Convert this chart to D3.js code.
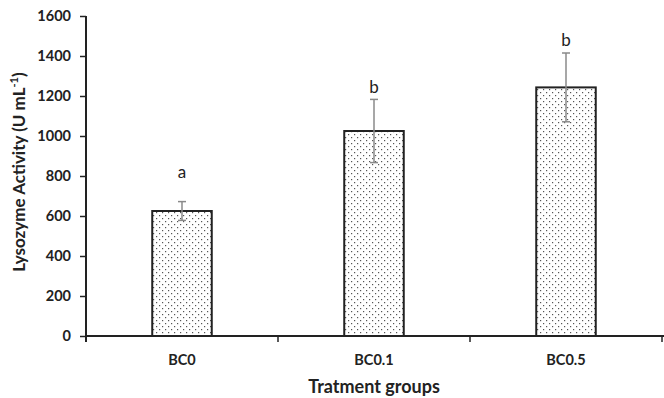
<!DOCTYPE html>
<html>
<head>
<meta charset="utf-8">
<script src="https://cdn.jsdelivr.net/npm/d3@7"></script>
<style>
  body { margin: 0; background: #fff; }
  text { font-family: Lato, "Open Sans", sans-serif; }
</style>
</head>
<body>
<script>
// Data
var groups = ["BC0", "BC0.1", "BC0.5"];
var means = [625, 1025, 1243];
var errors = [47, 158, 172];
var letters = ["a", "b", "b"];
var letterLevels = [790, 1213, 1450]; // baseline of the letter, in data units
var yTicks = [0, 200, 400, 600, 800, 1000, 1200, 1400, 1600];

var W = 664, H = 398;
var margin = { top: 16, right: 2, bottom: 62, left: 86 },
  width = W - margin.left - margin.right,
  height = H - margin.top - margin.bottom;

var svg = d3.select("body").append("svg")
  .attr("width", W)
  .attr("height", H);

// dotted fill
var defs = svg.append("defs");
var pat = defs.append("pattern")
  .attr("id", "dots")
  .attr("patternUnits", "userSpaceOnUse")
  .attr("width", 6)
  .attr("height", 6);
pat.append("rect").attr("width", 6).attr("height", 6).attr("fill", "#fff");
pat.append("rect").attr("x", 1).attr("y", 1).attr("width", 1.2).attr("height", 1.2).attr("fill", "#555");
pat.append("rect").attr("x", 4).attr("y", 4).attr("width", 1.2).attr("height", 1.2).attr("fill", "#555");

var g = svg.append("g")
  .attr("transform", "translate(" + margin.left + "," + margin.top + ")");

var x = d3.scaleBand().domain(groups).range([0, width])
  .paddingInner(0.69).paddingOuter(0.345);
var y = d3.scaleLinear().domain([0, 1600]).range([height, 0]);

// bars
g.selectAll(".bar").data(groups).enter().append("rect")
  .attr("class", "bar")
  .attr("x", function (d) { return x(d); })
  .attr("y", function (d, i) { return y(means[i]); })
  .attr("width", x.bandwidth())
  .attr("height", function (d, i) { return height - y(means[i]); })
  .attr("fill", "url(#dots)")
  .attr("stroke", "#222")
  .attr("stroke-width", 2);

// error bars
var eb = g.selectAll(".err").data(groups).enter().append("g")
  .attr("class", "err")
  .attr("stroke", "#8a8a8a")
  .attr("stroke-width", 1.5);
eb.append("line")
  .attr("x1", function (d) { return x(d) + x.bandwidth() / 2; })
  .attr("x2", function (d) { return x(d) + x.bandwidth() / 2; })
  .attr("y1", function (d, i) { return y(means[i] - errors[i]); })
  .attr("y2", function (d, i) { return y(means[i] + errors[i]); });
[-1, 1].forEach(function (s) {
  eb.append("line")
    .attr("x1", function (d) { return x(d) + x.bandwidth() / 2 - 4; })
    .attr("x2", function (d) { return x(d) + x.bandwidth() / 2 + 4; })
    .attr("y1", function (d, i) { return y(means[i] + s * errors[i]); })
    .attr("y2", function (d, i) { return y(means[i] + s * errors[i]); });
});

// significance letters
g.selectAll(".letter").data(groups).enter().append("text")
  .attr("class", "letter")
  .attr("x", function (d) { return x(d) + x.bandwidth() / 2; })
  .attr("y", function (d, i) { return y(letterLevels[i]); })
  .attr("text-anchor", "middle")
  .attr("font-size", 17)
  .attr("fill", "#222")
  .text(function (d, i) { return letters[i]; });

// Y axis
var yAxis = g.append("g")
  .call(d3.axisLeft(y).tickValues(yTicks).tickFormat(d3.format("d"))
    .tickSize(6).tickPadding(9).tickSizeOuter(0));
yAxis.select(".domain").attr("stroke", "#222").attr("stroke-width", 2)
  .attr("d", "M0," + (height + 6) + "V0");
yAxis.selectAll(".tick line").attr("stroke", "#222").attr("stroke-width", 1.5);
yAxis.selectAll(".tick text")
  .attr("font-size", 14.5).attr("font-weight", "bold").attr("fill", "#222");

// X axis
var xEdges = d3.range(groups.length + 1).map(function (i) { return i * x.step(); });
var xAxis = g.append("g").attr("transform", "translate(0," + height + ")");
xAxis.append("line")
  .attr("x1", 0).attr("x2", W - margin.left)
  .attr("stroke", "#222").attr("stroke-width", 2);
xAxis.selectAll(".edge").data(xEdges).enter().append("line")
  .attr("x1", function (d) { return d; }).attr("x2", function (d) { return d; })
  .attr("y1", 0).attr("y2", 6)
  .attr("stroke", "#222").attr("stroke-width", 1.5);
xAxis.selectAll(".lab").data(groups).enter().append("text")
  .attr("x", function (d) { return x(d) + x.bandwidth() / 2; })
  .attr("y", 29)
  .attr("text-anchor", "middle")
  .attr("font-size", 14.5).attr("font-weight", "bold").attr("fill", "#222")
  .text(function (d) { return d; });

// axis titles
g.append("text")
  .attr("x", width / 2)
  .attr("y", height + 57)
  .attr("text-anchor", "middle")
  .attr("font-size", 18).attr("font-weight", "bold").attr("fill", "#222")
  .text("Tratment groups");

var yt = svg.append("text")
  .attr("transform", "translate(25,172) rotate(-90)")
  .attr("text-anchor", "middle")
  .attr("font-size", 17).attr("font-weight", "bold").attr("fill", "#222");
yt.append("tspan").text("Lysozyme Activity (U mL");
yt.append("tspan").attr("font-size", 11).attr("dy", -7).text("-1");
yt.append("tspan").attr("dy", 7).text(")");
</script>
</body>
</html>
